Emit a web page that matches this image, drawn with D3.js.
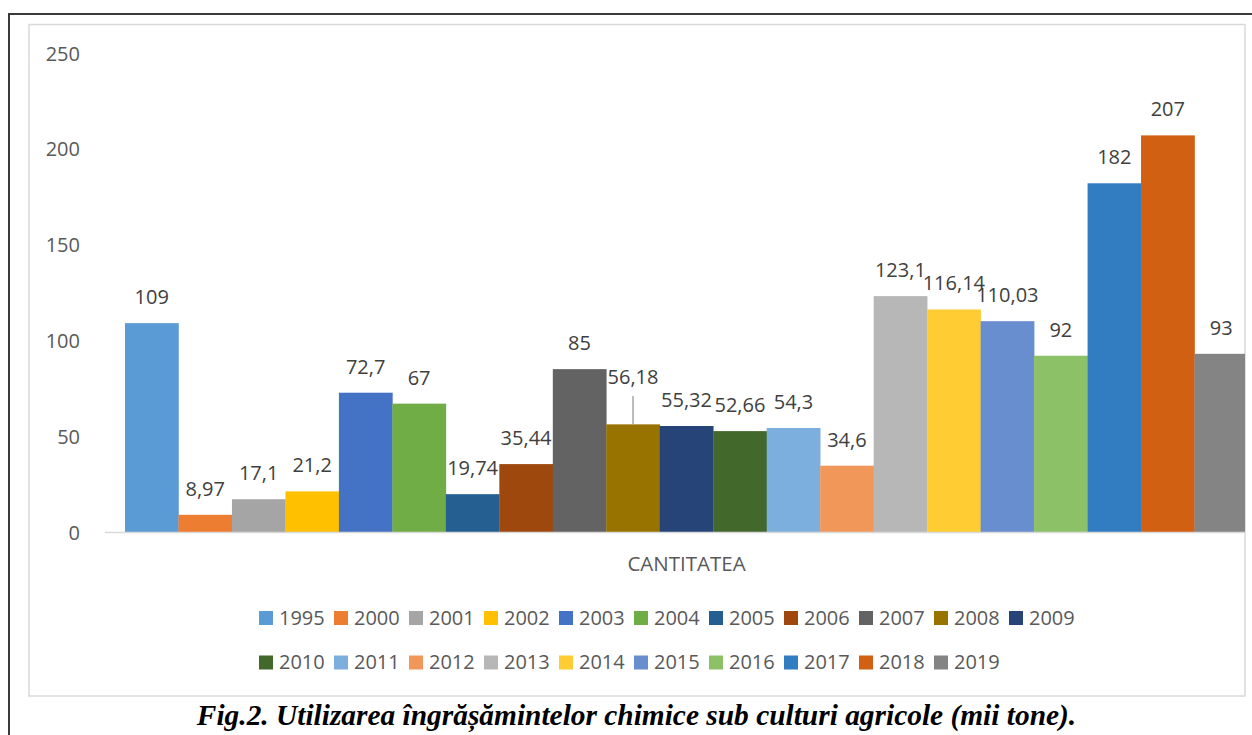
<!DOCTYPE html>
<html><head><meta charset="utf-8">
<script src="https://cdn.jsdelivr.net/npm/d3@7"></script>
<style>html,body{margin:0;padding:0;background:#fff;overflow:hidden}</style>
</head><body>
<svg id="c" width="1252" height="735"></svg>
<script>
const years = ["1995","2000","2001","2002","2003","2004","2005","2006","2007","2008","2009","2010","2011","2012","2013","2014","2015","2016","2017","2018","2019"];
const values = [109, 8.97, 17.1, 21.2, 72.7, 67, 19.74, 35.44, 85, 56.18, 55.32, 52.66, 54.3, 34.6, 123.1, 116.14, 110.03, 92, 182, 207, 93];
const colors = ["#5B9BD5","#ED7D31","#A5A5A5","#FFC000","#4472C4","#70AD47","#255E91","#9E480E","#636363","#997300","#264478","#43682B","#7CAFDD","#F1975A","#B7B7B7","#FFCD33","#698ED0","#8CC168","#327DC2","#D26012","#848484"];
const yTicks = [0, 50, 100, 150, 200, 250];
const category = "CANTITATEA";
const caption = "Fig.2. Utilizarea îngrășămintelor chimice sub culturi agricole (mii tone).";

const svg = d3.select("#c");
const font = "'Open Sans', 'Noto Sans', sans-serif";

// outer black border
svg.append("path").attr("d","M9,735 L9,14 L1252,14").attr("fill","none").attr("stroke","#3a3a3a").attr("stroke-width",2);
// chart frame
svg.append("rect").attr("x",29).attr("y",24.5).attr("width",1216).attr("height",671.5)
  .attr("fill","#fff").attr("stroke","#D9D9D9").attr("stroke-width",1.5);

const y = d3.scaleLinear().domain([0,250]).range([532,53]);
const x = d3.scaleBand().domain(years).range([125,1248]).padding(0);

svg.append("defs").append("clipPath").attr("id","clip").append("rect")
  .attr("x",29).attr("y",24).attr("width",1216).attr("height",672);

const yAxis = svg.append("g").attr("transform","translate(80,0)")
  .call(d3.axisLeft(y).tickValues(yTicks).tickSize(0).tickPadding(0));
yAxis.select(".domain").remove();
yAxis.selectAll("text").attr("font-family",font).attr("font-size",20).attr("fill","#595959").attr("dy","0.35em");

svg.append("g").attr("clip-path","url(#clip)").selectAll("rect").data(years).join("rect")
  .attr("x",d=>x(d)).attr("width",x.bandwidth()+0.3)
  .attr("y",(d,i)=>y(values[i])).attr("height",(d,i)=>y(0)-y(values[i]))
  .attr("fill",(d,i)=>colors[i]);

// baseline
svg.append("line").attr("x1",105).attr("x2",1245).attr("y1",y(0)+0.5).attr("y2",y(0)+0.5)
  .attr("stroke","#D9D9D9").attr("stroke-width",1.5);

const fmt = v => String(v).replace(".", ",");
const lift = {"2008": 21};
svg.append("g").selectAll("text").data(years).join("text")
  .attr("x",d=>x(d)+x.bandwidth()/2)
  .attr("y",(d,i)=>y(values[i]) - 19 - (lift[d]||0))
  .attr("text-anchor","middle").attr("font-family",font).attr("font-size",20).attr("fill","#404040")
  .text((d,i)=>fmt(values[i]));
// leader line for 2008
const iL = years.indexOf("2008");
svg.append("line").attr("x1",x("2008")+x.bandwidth()/2).attr("x2",x("2008")+x.bandwidth()/2)
  .attr("y1",396).attr("y2",y(values[iL])).attr("stroke","#A6A6A6").attr("stroke-width",1.5);

svg.append("text").attr("x",686.5).attr("y",571).attr("text-anchor","middle")
  .attr("font-family",font).attr("font-size",20.5).attr("fill","#595959").text(category);

// legend
const perRow = 11;
const leg = svg.append("g");
years.forEach((yr,i)=>{
  const r = Math.floor(i/perRow), c = i%perRow;
  const gx = 259 + c*75, gy = 611 + r*44.5;
  leg.append("rect").attr("x",gx).attr("y",gy).attr("width",14).attr("height",14).attr("fill",colors[i]);
  leg.append("text").attr("x",gx+20).attr("y",gy+13.5).attr("font-family",font).attr("font-size",20)
    .attr("fill","#595959").text(yr);
});

svg.append("text").attr("x",636.5).attr("y",725).attr("text-anchor","middle")
  .attr("font-family","'Liberation Serif','Times New Roman',serif").attr("font-weight","bold").attr("font-style","italic")
  .attr("font-size",29.4).attr("fill","#000").text(caption);
</script>
</body></html>
